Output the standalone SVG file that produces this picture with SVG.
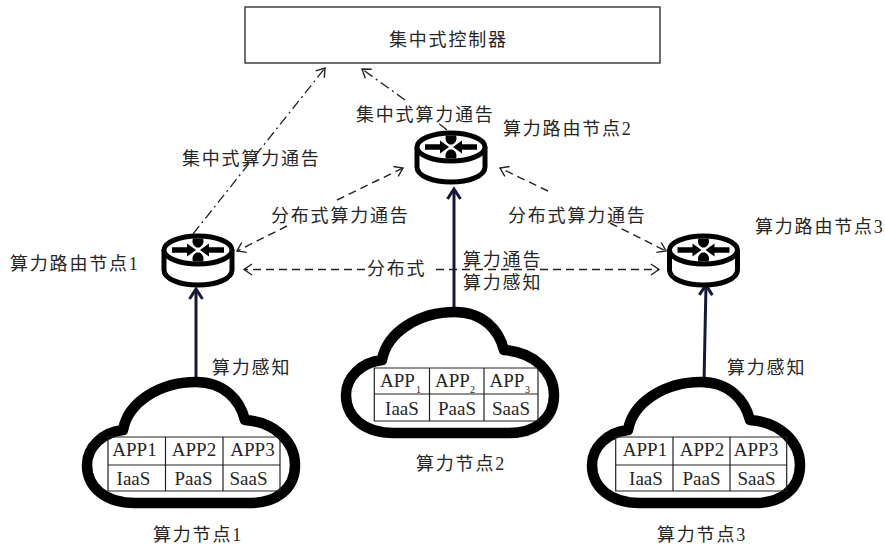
<svg xmlns="http://www.w3.org/2000/svg" width="885" height="546" viewBox="0 0 885 546">
<style>
text{font-family:"Liberation Serif","Noto Sans CJK SC",serif;fill:#262626}
.l{font-size:18px;letter-spacing:1.8px}
.t{font-size:19px;text-anchor:middle}
.s{font-size:10px}
.cloud{fill:#fff;stroke:#000;stroke-width:10.500;stroke-linejoin:round}
.grid{fill:none;stroke:#222;stroke-width:1.2}
.r{fill:#fff;stroke:#000;stroke-width:5}
.d{fill:none;stroke:#222;stroke-width:1.4;stroke-dasharray:8 5}
.dd{fill:none;stroke:#222;stroke-width:1.3;stroke-dasharray:10 4 2 4}
.up{fill:none;stroke:#14183a;stroke-width:3;marker-end:url(#big)}
</style>
<defs>
<marker id="thin" markerUnits="userSpaceOnUse" markerWidth="14" markerHeight="14" refX="11" refY="7" orient="auto"><path d="M3,1.5L11,7L3,12.5" fill="none" stroke="#222" stroke-width="1.4"/></marker>
<marker id="big" markerUnits="userSpaceOnUse" markerWidth="16" markerHeight="16" refX="13" refY="8" orient="auto"><path d="M3,1.5L13,8L3,14.5" fill="none" stroke="#14183a" stroke-width="3"/></marker>
<path id="cloudshape" d="M123,430C128,402 160,382 196,382C224,382 240,400 245,420C275,422 295,442 295,465C295,490 275,503 250,503L135,503C105,503 87,487 87,465C87,447 103,432 123,430Z"/>
<g id="routershape">
<path class="r" d="M-34,0V20C-34,29 -18,35 0,35C18,35 34,29 34,20V0"/>
<ellipse class="r" cx="0" cy="0" rx="34" ry="14"/>
<path d="M-26,-2.800H-11V-6.500L-2,0L-11,6.500V2.800H-26ZM26,-2.800H11V-6.500L2,0L11,6.500V2.800H26Z" fill="#000"/>
<path d="M-1.500,-2.500C-6,-5 -6,-9 -5,-11.500H5C6,-9 6,-5 1.500,-2.500ZM-1.500,2.500C-6,5 -6,9 -5,11.500H5C6,9 6,5 1.500,2.500Z" fill="#000"/>
</g>
</defs>

<g id="connectors">
<path class="dd" d="M193,234L325,68" marker-end="url(#thin)"/>
<path class="dd" d="M405,100L362,69" marker-end="url(#thin)"/>
<path class="dd" d="M447,130L437,122"/>
<path class="d" d="M287,226L237,251" marker-end="url(#thin)"/>
<path class="d" d="M337,200L403,168" marker-end="url(#thin)"/>
<path class="d" d="M548,191L500,168" marker-end="url(#thin)"/>
<path class="d" d="M610,223L666,251" marker-end="url(#thin)"/>
<path class="d" d="M365,269.500H244" marker-end="url(#thin)"/>
<path class="d" d="M436,269.500H659" marker-end="url(#thin)"/>
<path class="up" d="M196,382V289"/>
<path class="up" d="M454,315V189"/>
<path class="up" d="M704,382L706,285"/>
</g>

<g id="controller">
<rect x="245" y="7" width="415" height="56" fill="#fff" stroke="#333" stroke-width="1.4"/>
<text class="l" x="389" y="45.500">集中式控制器</text>
</g>

<g id="router1">
<use href="#routershape" x="198" y="250"/>
<text class="l" x="10" y="270">算力路由节点1</text>
</g>
<g id="router2">
<use href="#routershape" x="451" y="147"/>
<text class="l" x="503" y="135">算力路由节点2</text>
</g>
<g id="router3">
<use href="#routershape" x="703.500" y="250"/>
<text class="l" x="755" y="233">算力路由节点3</text>
</g>

<g id="cloud1">
<use href="#cloudshape" class="cloud"/>
<path class="grid" d="M108,437H280V491H108ZM108,465H280M165.500,437V491M223,437V491"/>
<text class="t" x="134.500" y="456">APP1</text><text class="t" x="194" y="456">APP2</text><text class="t" x="252.500" y="456">APP3</text>
<text class="t" x="133.500" y="485">IaaS</text><text class="t" x="193.500" y="485">PaaS</text><text class="t" x="248.500" y="485">SaaS</text>
<text class="l" x="153" y="541">算力节点1</text>
</g>
<g id="cloud2">
<use href="#cloudshape" class="cloud" x="259" y="-70"/>
<path class="grid" d="M374.300,368H538V421H374.300ZM374.300,394H538M429.500,368V421M484,368V421"/>
<text class="t" x="397.500" y="387">APP</text><text class="t" x="452.500" y="387">APP</text><text class="t" x="507" y="387">APP</text>
<text class="s" x="416" y="393">1</text><text class="s" x="470" y="393">2</text><text class="s" x="525" y="393">3</text>
<text class="t" x="402" y="415">IaaS</text><text class="t" x="457" y="415">PaaS</text><text class="t" x="511" y="415">SaaS</text>
<text class="l" x="416" y="470">算力节点2</text>
</g>
<g id="cloud3">
<use href="#cloudshape" class="cloud" x="505" y="0"/>
<path class="grid" d="M615.700,437H786.700V491H615.700ZM615.700,465H786.700M673,437V491M730,437V491"/>
<text class="t" x="645" y="456">APP1</text><text class="t" x="702" y="456">APP2</text><text class="t" x="756" y="456">APP3</text>
<text class="t" x="646" y="485">IaaS</text><text class="t" x="701.500" y="485">PaaS</text><text class="t" x="756.500" y="485">SaaS</text>
<text class="l" x="657" y="541">算力节点3</text>
</g>

<g id="labels">
<text class="l" x="356" y="120.500">集中式算力通告</text>
<text class="l" x="182" y="164.500">集中式算力通告</text>
<text class="l" x="271" y="221.500">分布式算力通告</text>
<text class="l" x="508" y="221.500">分布式算力通告</text>
<text class="l" x="367" y="274.500">分布式</text>
<text class="l" x="463" y="265.500">算力通告</text>
<text class="l" x="463" y="288.500">算力感知</text>
<text class="l" x="212" y="373.500">算力感知</text>
<text class="l" x="727" y="373.500">算力感知</text>
</g>
</svg>
